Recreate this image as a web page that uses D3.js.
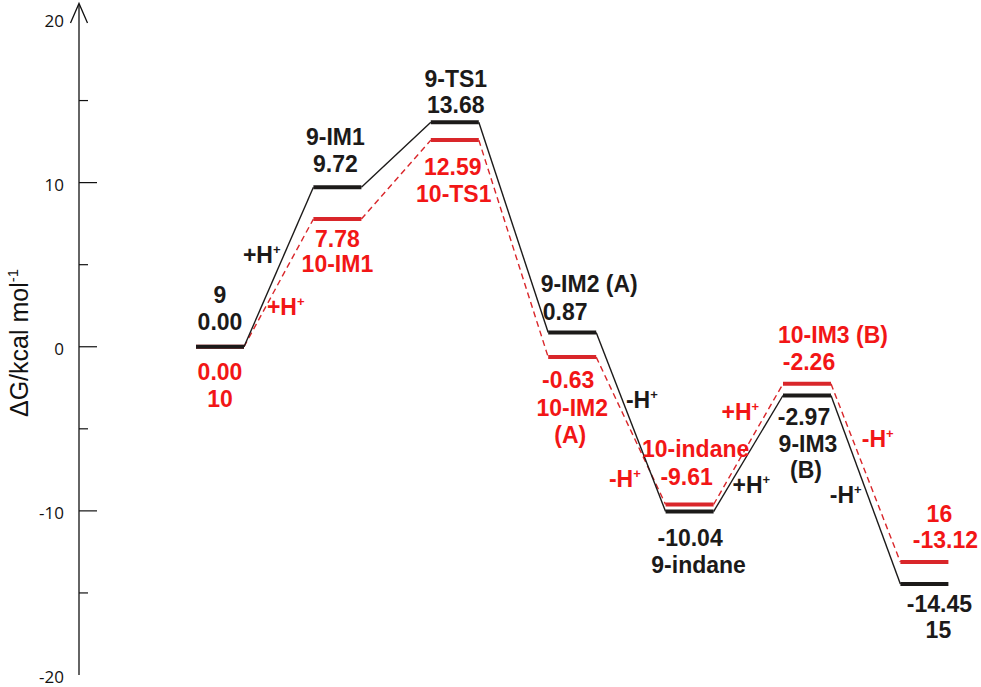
<!doctype html>
<html>
  <head>
    <meta charset="utf-8">
    <title>Free energy profile</title>
    <script src="https://cdnjs.cloudflare.com/ajax/libs/d3/7.8.5/d3.min.js"></script>
    <style>
      body { margin: 0; background: #fff; }
      text { font-family: "Liberation Sans", Arial, sans-serif; }
    </style>
  </head>
  <body>
    <svg width="981" height="687"></svg>
    <script>
      // reaction steps (columns)
      var steps = ["start", "IM1", "TS1", "IM2", "indane", "IM3", "product"];

      // free energies, kcal/mol
      var g9  = [0.00, 9.72, 13.68, 0.87, -10.04, -2.97, -14.45];
      var g10 = [0.00, 7.78, 12.59, -0.63, -9.61, -2.26, -13.12];

      // species names
      var names9  = ["9", "9-IM1", "9-TS1", "9-IM2 (A)", "9-indane", "9-IM3 (B)", "15"];
      var names10 = ["10", "10-IM1", "10-TS1", "10-IM2 (A)", "10-indane", "10-IM3 (B)", "16"];

      // proton steps between columns i -> i+1
      var protonSteps9  = [[0, "+"], [3, "-"], [4, "+"], [5, "-"]];
      var protonSteps10 = [[0, "+"], [3, "-"], [4, "+"], [5, "-"]];

      var yTicks = [20, 10, 0, -10, -20];
      var yMinorTicks = [15, 5, -5, -15];

      var black = "#1c1a19", redLine = "#d9262a", redText = "#f21616";

      var svg = d3.select("svg");

      var x = d3.scaleBand()
        .domain(steps)
        .range([196, 948.4])
        .paddingInner(0.591)
        .paddingOuter(0);

      var y = d3.scaleLinear()
        .domain([-20, 20])
        .range([675, 18.5]);

      // plain hyphen for negatives, like the original figure
      var fmt = function(v) { return v.toFixed(2); };

      // ---- axis ----
      var axisG = svg.append("g");
      axisG.append("line")
        .attr("x1", 79).attr("x2", 79)
        .attr("y1", 4).attr("y2", y(-20))
        .attr("stroke", "#111").attr("stroke-width", 1.3);
      axisG.append("path")
        .attr("d", "M70.5,23 L79,3.5 L87.5,23")
        .attr("fill", "none").attr("stroke", "#111").attr("stroke-width", 1.3);
      axisG.selectAll(".major")
        .data(yTicks.filter(function(d) { return d > -20 && d < 20; }))
        .join("line")
        .attr("x1", 79).attr("x2", 97)
        .attr("y1", function(d) { return y(d); })
        .attr("y2", function(d) { return y(d); })
        .attr("stroke", "#111").attr("stroke-width", 1.2);
      axisG.selectAll(".minor")
        .data(yMinorTicks)
        .join("line")
        .attr("x1", 79).attr("x2", 88)
        .attr("y1", function(d) { return y(d); })
        .attr("y2", function(d) { return y(d); })
        .attr("stroke", "#111").attr("stroke-width", 1.2);
      axisG.selectAll(".tl")
        .data(yTicks)
        .join("text")
        .attr("x", 64)
        .attr("y", function(d) { return y(d) + 8; })
        .attr("text-anchor", "end")
        .style("font-family", "'Open Sans', sans-serif")
        .style("font-size", "17px")
        .attr("fill", "#111")
        .text(function(d) { return d; });

      var title = svg.append("text")
        .attr("transform", "translate(28,343) rotate(-90)")
        .attr("text-anchor", "middle")
        .style("font-size", "25px")
        .attr("fill", "#111");
      title.append("tspan").text("\u0394G/kcal mol");
      title.append("tspan").attr("dy", -10).style("font-size", "15px").text("-1");

      // ---- connectors ----
      function connectors(vals, color, dash) {
        var segs = d3.range(vals.length - 1).map(function(i) {
          return [[x(steps[i]) + x.bandwidth(), y(vals[i])], [x(steps[i + 1]), y(vals[i + 1])]];
        });
        svg.append("g").selectAll("path")
          .data(segs)
          .join("path")
          .attr("d", d3.line())
          .attr("fill", "none")
          .attr("stroke", color)
          .attr("stroke-width", 1.4)
          .attr("stroke-dasharray", dash);
      }
      connectors(g10, redLine, "6,4");
      connectors(g9, black, null);

      // ---- levels ----
      function levels(vals, color) {
        svg.append("g").selectAll("line")
          .data(vals)
          .join("line")
          .attr("x1", function(d, i) { return x(steps[i]); })
          .attr("x2", function(d, i) { return x(steps[i]) + x.bandwidth(); })
          .attr("y1", function(d) { return y(d); })
          .attr("y2", function(d) { return y(d); })
          .attr("stroke", color)
          .attr("stroke-width", 4);
      }
      levels(g10, redLine);
      levels(g9, black);

      // ---- labels: offsets [dx, dy] of each line relative to level centre ----
      // line kinds: "n" = name, "v" = value
      var layout9 = [
        [["n", 0, -43.5], ["v", 0, -16.5]],
        [["n", -2, -42], ["v", -2, -15]],
        [["n", 1, -35], ["v", 1, -9]],
        [["n", 17, -40], ["v", -7, -12]],
        [["v", 0.5, 34], ["n", 9, 61]],
        [["v", -3, 30], ["n", 1, 57, "9-IM3"], ["n", -1, 83, "(B)"]],
        [["v", 15, 28.5], ["n", 14, 54.5]]
      ];
      var layout10 = [
        [["v", 0, 33.5], ["n", 0, 60.5]],
        [["v", 0, 28], ["n", 0, 53]],
        [["v", -2, 35], ["n", -1, 62]],
        [["v", -4, 31], ["n", 0, 59, "10-IM2"], ["n", -2, 86, "(A)"]],
        [["n", 6, -47], ["v", -3, -19]],
        [["n", 26, -40.5], ["v", 2, -13.5]],
        [["n", 15, -40], ["v", 21, -14]]
      ];

      function labels(vals, names, layout, color) {
        var rows = [];
        layout.forEach(function(lines, i) {
          var cx = x(steps[i]) + x.bandwidth() / 2, cy = y(vals[i]);
          lines.forEach(function(l) {
            var t = l[0] === "v" ? fmt(vals[i]) : (l[3] || names[i]);
            rows.push({ x: cx + l[1], y: cy + l[2], t: t });
          });
        });
        svg.append("g").selectAll("text")
          .data(rows)
          .join("text")
          .attr("x", function(d) { return d.x; })
          .attr("y", function(d) { return d.y; })
          .attr("text-anchor", "middle")
          .style("font-size", "23px")
          .style("font-weight", "bold")
          .attr("fill", color)
          .text(function(d) { return d.t; });
      }
      labels(g9, names9, layout9, black);
      labels(g10, names10, layout10, redText);

      // ---- proton labels, offset from connector midpoint ----
      var hOffsets9 = [[-17, -4], [11, -14], [3, 39], [-20, 13]];
      var hOffsets10 = [[7, 32], [-6, 56], [-8, -24], [12, -26]];

      function protons(vals, list, offsets, color) {
        var rows = list.map(function(p, k) {
          var i = p[0];
          var mx = (x(steps[i]) + x.bandwidth() + x(steps[i + 1])) / 2;
          var my = (y(vals[i]) + y(vals[i + 1])) / 2;
          return { x: mx + offsets[k][0], y: my + offsets[k][1], s: p[1] };
        });
        var t = svg.append("g").selectAll("text")
          .data(rows)
          .join("text")
          .attr("x", function(d) { return d.x; })
          .attr("y", function(d) { return d.y; })
          .attr("text-anchor", "middle")
          .style("font-size", "23px")
          .style("font-weight", "bold")
          .attr("fill", color);
        t.append("tspan").text(function(d) { return d.s + "H"; });
        t.append("tspan").attr("dy", -9).style("font-size", "13px").text("+");
      }
      protons(g9, protonSteps9, hOffsets9, black);
      protons(g10, protonSteps10, hOffsets10, redText);
    </script>
  </body>
</html>
